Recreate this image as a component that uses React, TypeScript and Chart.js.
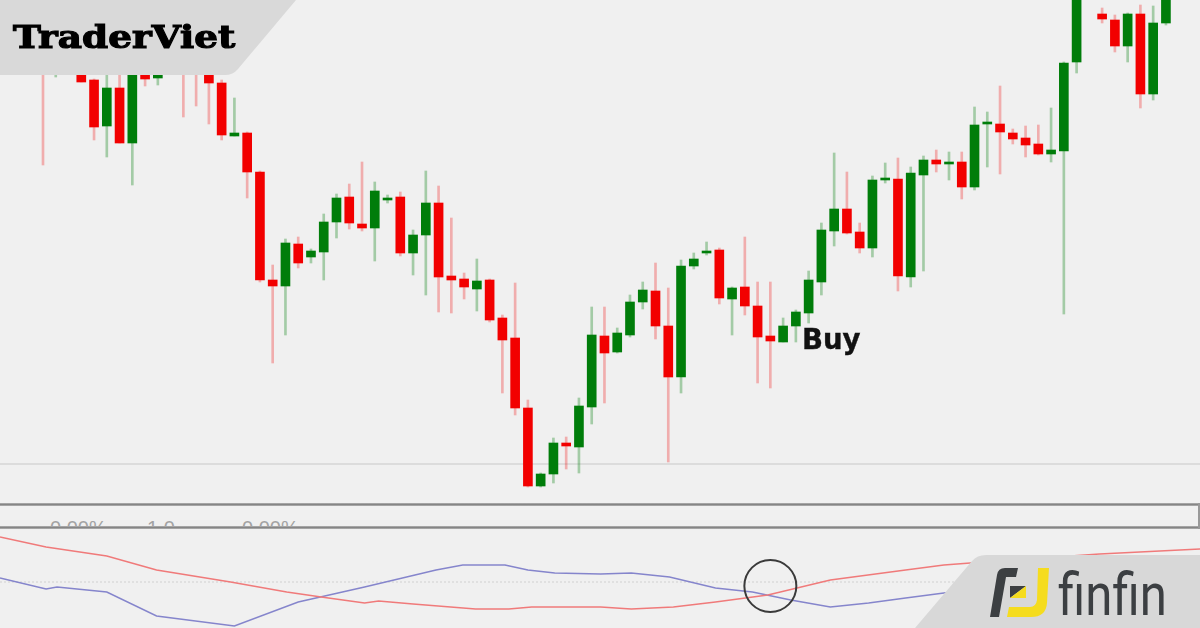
import React, { useEffect, useLayoutEffect, useRef, useState } from "react";
import { Chart, registerables } from "chart.js";

Chart.register(...registerables);

// ---- Price candles (index = bar number) ----
const opens = [450, 430, 440, 440, 420, 374, 412, 357, 426, 422, 440, 450, 445, 430, 417, 364, 367, 328, 220, 214, 256, 243, 248, 278, 303, 276, 272, 300, 303, 247, 265, 297, 224, 221, 211, 220, 182, 162, 92, 14, 26, 57, 53, 93, 164, 148, 165, 198, 209, 174, 123, 234, 247, 250, 201, 213, 194, 164, 158, 174, 187, 218, 269, 291, 268, 252, 320, 321, 223, 325, 340, 336, 338, 313, 376, 376, 367, 362, 356, 346, 349, 438, 515, 486, 480, 454, 486, 406, 477];
const highs = [460, 450, 460, 450, 421, 425, 430, 440, 435, 430, 460, 460, 455, 440, 420, 402, 368, 329, 235, 261, 263, 251, 286, 306, 316, 338, 318, 305, 308, 270, 329, 314, 282, 227, 241, 221, 185, 217, 100, 27, 62, 63, 102, 193, 193, 172, 205, 218, 237, 212, 240, 247, 258, 252, 213, 263, 218, 218, 182, 190, 229, 277, 347, 328, 277, 324, 337, 342, 333, 344, 350, 348, 348, 393, 388, 414, 371, 374, 375, 392, 438, 520, 540, 492, 485, 487, 495, 494, 520];
const lows = [335, 423, 432, 418, 360, 343, 357, 315, 414, 415, 432, 383, 394, 376, 360, 364, 302, 218, 137, 165, 232, 237, 220, 262, 271, 269, 239, 297, 244, 225, 205, 188, 187, 201, 189, 178, 107, 85, 13, 13, 17, 31, 27, 76, 97, 147, 163, 191, 161, 38, 107, 231, 245, 196, 165, 185, 117, 112, 158, 158, 177, 205, 254, 266, 247, 243, 317, 209, 213, 229, 328, 320, 301, 310, 333, 326, 356, 343, 345, 338, 186, 427, 505, 477, 448, 438, 392, 400, 475];
const closes = [435, 440, 450, 418, 373, 412, 357, 430, 421, 426, 450, 430, 428, 417, 365, 367, 328, 220, 214, 257, 237, 249, 278, 302, 277, 272, 309, 302, 247, 265, 297, 223, 220, 213, 219, 180, 160, 92, 14, 26, 57, 54, 94, 165, 147, 167, 198, 210, 174, 123, 234, 241, 249, 202, 212, 194, 163, 159, 174, 188, 220, 270, 291, 267, 252, 320, 322, 224, 327, 340, 336, 338, 313, 375, 378, 368, 361, 355, 346, 350, 437, 510, 530, 481, 454, 486, 406, 477, 510];
const supportLevel = 36;

// ---- Oscillator lines (x = bar number) ----
const redIdx = [-3.37, 0.24, 5.0, 8.9, 14.7, 19.1, 21.8, 25.2, 26.3, 29.0, 33.9, 36.5, 38.3, 43.7, 46.1, 49.4, 52.7, 56.8, 61.7, 67.6, 70.6, 73.7, 82.8, 90.7];
const redVal = [45, 35, 26, 12, 0, -10, -15, -21, -19, -22, -27, -27, -25, -25, -27, -25, -20, -13, 2, 12, 17, 20, 28, 33];
const blueIdx = [-3.37, 0.24, 1.1, 5.0, 8.9, 15.0, 20.0, 25.2, 30.8, 32.9, 36.2, 38.0, 40.1, 43.7, 46.1, 49.1, 52.7, 55.6, 58.6, 61.7, 64.7, 67.6, 70.6, 74.2, 90.7];
const blueVal = [4, -7, -5, -10, -34, -44, -20, -5, 12, 17, 17, 12, 9, 8, 9, 5, -6, -10, -18, -25, -21, -16, -11, -5, 7];
const crossIdx = 57.0;
const crossVal = -4;

const axisLabels = ["0.00%", "1.0", "0.00%"];

const X_MIN = -3.37;
const X_MAX = 90.67;

const UP = "#007d0a";
const DOWN = "#f20000";
const UP_WICK = "rgba(0,125,10,0.32)";
const DOWN_WICK = "rgba(242,0,0,0.28)";

function FitText({ text, width, style }: { text: string; width: number; style: React.CSSProperties }) {
  const ref = useRef<HTMLSpanElement>(null);
  const [s, setS] = useState(1);
  useLayoutEffect(() => {
    if (ref.current) {
      const w = ref.current.offsetWidth;
      if (w) setS(width / w);
    }
  }, [text, width]);
  return (
    <span
      ref={ref}
      style={{
        ...style,
        position: "absolute",
        display: "inline-block",
        whiteSpace: "nowrap",
        lineHeight: 1,
        transform: `scaleX(${s})`,
        transformOrigin: "left top",
      }}
    >
      {text}
    </span>
  );
}

export default function App() {
  const mainRef = useRef<HTMLCanvasElement>(null);
  const oscRef = useRef<HTMLCanvasElement>(null);

  useEffect(() => {
    const idx = opens.map((_, i) => i);
    const up = idx.map((i) => closes[i] >= opens[i]);
    const levelPlugin = {
      id: "level",
      beforeDatasetsDraw(chart: any) {
        const y = chart.scales.y.getPixelForValue(supportLevel);
        const ctx = chart.ctx;
        ctx.save();
        ctx.strokeStyle = "#dcdcdc";
        ctx.lineWidth = 2;
        ctx.beginPath();
        ctx.moveTo(0, y);
        ctx.lineTo(chart.width, y);
        ctx.stroke();
        ctx.restore();
      },
    };
    const main = new Chart(mainRef.current!, {
      type: "bar",
      data: {
        datasets: [
          {
            label: "body",
            data: idx.map((i) => ({ x: i, y: [opens[i], closes[i]] })) as any,
            backgroundColor: idx.map((i) => (up[i] ? UP : DOWN)),
            borderWidth: 0,
            barThickness: 9,
            grouped: false,
            order: 0,
          } as any,
          {
            label: "wick",
            data: idx.map((i) => ({ x: i, y: [lows[i], highs[i]] })) as any,
            backgroundColor: idx.map((i) => (up[i] ? UP_WICK : DOWN_WICK)),
            borderWidth: 0,
            barThickness: 2,
            grouped: false,
            order: 1,
          } as any,
        ],
      },
      options: {
        animation: false,
        responsive: false,
        maintainAspectRatio: false,
        layout: { padding: 0, autoPadding: false },
        plugins: { legend: { display: false }, tooltip: { enabled: false } },
        scales: {
          x: { type: "linear", min: X_MIN, max: X_MAX, display: false, offset: false },
          y: { min: 0, max: 500, display: false },
        },
      },
      plugins: [levelPlugin],
    });

    const osc = new Chart(oscRef.current!, {
      type: "line",
      data: {
        datasets: [
          {
            label: "cross",
            data: [{ x: crossIdx, y: crossVal }],
            showLine: false,
            pointRadius: 26,
            pointBorderWidth: 2,
            pointBorderColor: "#3a3a3a",
            pointBackgroundColor: "rgba(0,0,0,0)",
            clip: false,
          } as any,
          {
            label: "red",
            data: redIdx.map((x, i) => ({ x, y: redVal[i] })),
            borderColor: "#f07a7a",
            borderWidth: 1.5,
            pointRadius: 0,
            tension: 0,
          },
          {
            label: "blue",
            data: blueIdx.map((x, i) => ({ x, y: blueVal[i] })),
            borderColor: "#8585cc",
            borderWidth: 1.5,
            pointRadius: 0,
            tension: 0,
          },
          {
            label: "zero",
            data: [
              { x: X_MIN, y: 0 },
              { x: X_MAX, y: 0 },
            ],
            borderColor: "#cfcfcf",
            borderWidth: 1,
            borderDash: [2, 2],
            pointRadius: 0,
          },
        ],
      },
      options: {
        animation: false,
        responsive: false,
        maintainAspectRatio: false,
        layout: { padding: 0, autoPadding: false },
        plugins: { legend: { display: false }, tooltip: { enabled: false } },
        scales: {
          x: { type: "linear", min: X_MIN, max: X_MAX, display: false },
          y: { min: -46, max: 52, display: false },
        },
      },
    });
    return () => {
      main.destroy();
      osc.destroy();
    };
  }, []);

  const lineStyle = (top: number): React.CSSProperties => ({
    position: "absolute",
    left: 0,
    top,
    width: 1200,
    height: 3,
    background: "linear-gradient(#b4b4b4, #858585, #b4b4b4)",
  });

  return (
    <div
      style={{
        position: "fixed",
        left: 0,
        top: 0,
        width: 1200,
        height: 628,
        background: "#f0f0f0",
        overflow: "hidden",
      }}
    >
      <canvas ref={mainRef} width={1200} height={500} style={{ position: "absolute", left: 0, top: 0, width: 1200, height: 500 }} />
      <div style={{ position: "absolute", left: 0, top: 506, width: 1200, height: 21, overflow: "hidden" }}>
        {axisLabels.map((t, i) => (
          <span
            key={i}
            style={{
              position: "absolute",
              left: [50, 147, 242][i],
              top: 12,
              fontFamily: "'Liberation Sans', Arial, sans-serif",
              fontSize: 20,
              lineHeight: 1,
              color: "#a3a3a3",
              whiteSpace: "nowrap",
            }}
          >
            {t}
          </span>
        ))}
      </div>
      <div style={lineStyle(503)} />
      <div style={lineStyle(526)} />
      <div style={{ position: "absolute", left: 1198, top: 503, width: 2, height: 26, background: "#999" }} />
      <canvas ref={oscRef} width={1200} height={98} style={{ position: "absolute", left: 0, top: 530, width: 1200, height: 98 }} />

      <FitText
        text="Buy"
        width={59}
        style={{ left: 802, top: 326, fontFamily: "'DejaVu Sans', sans-serif", fontWeight: 700, fontSize: 28, color: "#111", WebkitTextStroke: "0.4px #111" }}
      />

      <svg width={1200} height={628} style={{ position: "absolute", left: 0, top: 0 }}>
        <path d="M0 0 L296 0 L238 69 Q233 75 225 75 L0 75 Z" fill="#d9d9d9" />
        <path d="M915 628 L972 561 Q977 555 986 555 L1200 555 L1200 628 Z" fill="#d8d8d8" />
        <path d="M990 617 L997 575 Q998 568 1005 568 L1018 568 L1016 577 L1006 577 L999 617 Z" fill="#3c3f42" />
        <path d="M1010 586 L1026 586 L1010 598 Z" fill="#3c3f42" />
        <path d="M1026 586 L1026 598 L1010 598 Z" fill="#f5dc1e" />
        <path d="M1038 568 L1049 568 L1047 603 Q1046 617 1031 617 L1007 617 L1009 607 L1030 607 Q1036 607 1037 600 Z" fill="#f5dc1e" />
      </svg>

      <FitText
        text="TraderViet"
        width={222}
        style={{ left: 13, top: 21, fontFamily: "'DejaVu Serif', serif", fontWeight: 900, fontSize: 32, color: "#000", WebkitTextStroke: "1.2px #000" }}
      />
      <FitText
        text="finfin"
        width={109}
        style={{ left: 1058, top: 565, fontFamily: "Roboto, sans-serif", fontWeight: 400, fontSize: 60, color: "#3c3f42" }}
      />
    </div>
  );
}
